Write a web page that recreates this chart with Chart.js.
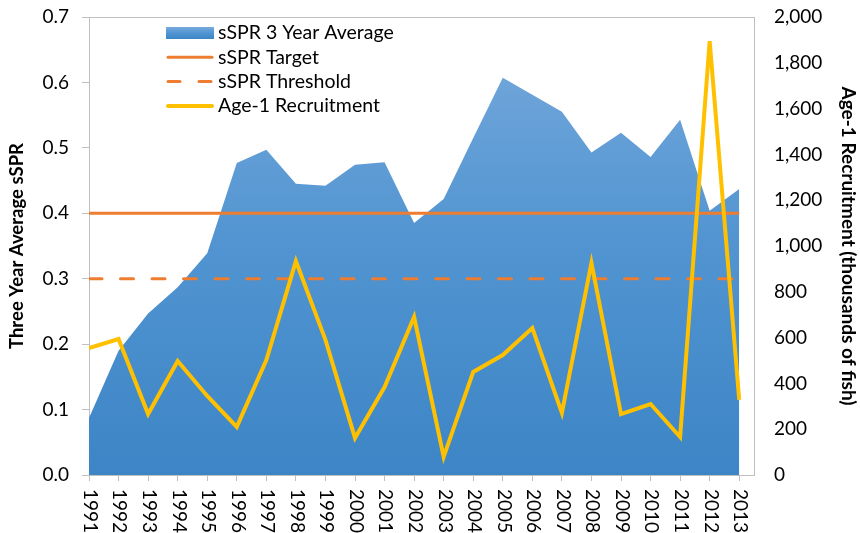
<!DOCTYPE html>
<html lang="en">
<head>
    <meta charset="UTF-8">
    <title>sSPR and Age-1 Recruitment</title>
    <script src="https://cdn.jsdelivr.net/npm/chart.js"></script>
    <style>
        body {
            margin: 0;
            padding: 0;
            background-color: #ffffff;
        }
        #wrap {
            width: 860px;
            height: 533px;
        }
    </style>
</head>
<body>
    <div id="wrap"><canvas id="myChart"></canvas></div>

    <script>
        const years = [1991, 1992, 1993, 1994, 1995, 1996, 1997, 1998, 1999, 2000, 2001, 2002,
                       2003, 2004, 2005, 2006, 2007, 2008, 2009, 2010, 2011, 2012, 2013];
        const ssprAvg = [0.087, 0.19, 0.247, 0.287, 0.339, 0.477, 0.497, 0.445, 0.442, 0.474, 0.478, 0.385,
                         0.422, 0.515, 0.607, 0.581, 0.555, 0.493, 0.523, 0.486, 0.543, 0.404, 0.437];
        const ssprTarget = years.map(() => 0.4);
        const ssprThreshold = years.map(() => 0.3);
        const recruitment = [554, 594, 266, 498, 345, 210, 502, 934, 590, 162, 384, 690,
                             79, 450, 524, 642, 271, 926, 266, 310, 166, 1895, 328];
        const leftTicks = [0, 0.1, 0.2, 0.3, 0.4, 0.5, 0.6, 0.7];
        const rightTicks = [0, 200, 400, 600, 800, 1000, 1200, 1400, 1600, 1800, 2000];

        const FONT = 'Lato, "Liberation Sans", sans-serif';
        const AXIS_GRAY = '#bfbfbf';
        const TEXT = '#000000';

        function pts(values) {
            return years.map((y, i) => ({ x: y, y: values[i] }));
        }

        function areaGradient(ctx, area) {
            const g = ctx.createLinearGradient(0, area.top, 0, area.bottom);
            g.addColorStop(0, '#78aadc');
            g.addColorStop(0.5, '#5194d1');
            g.addColorStop(1, '#3d85c6');
            return g;
        }

        // rotated year labels (top to bottom), top border and the legend inside the plot
        const extrasPlugin = {
            id: 'extras',
            afterDraw(chart) {
                const ctx = chart.ctx;
                const area = chart.chartArea;
                const xs = chart.scales.x;

                ctx.save();
                ctx.strokeStyle = AXIS_GRAY;
                ctx.lineWidth = 1;
                ctx.beginPath();
                ctx.moveTo(area.left, area.top + 0.5);
                ctx.lineTo(area.right, area.top + 0.5);
                ctx.stroke();

                ctx.fillStyle = TEXT;
                ctx.font = '19px ' + FONT;
                ctx.textAlign = 'left';
                ctx.textBaseline = 'middle';
                years.forEach(y => {
                    const px = xs.getPixelForValue(y);
                    ctx.save();
                    ctx.translate(px + 1, area.bottom + 14);
                    ctx.rotate(Math.PI / 2);
                    ctx.fillText(String(y), 0, 0);
                    ctx.restore();
                });

                // legend
                const ds = chart.data.datasets;
                const sx = area.left + 77;
                const sw = 48;
                const tx = sx + sw + 4;
                let ry = area.top + 16;
                ctx.font = '19.5px ' + FONT;
                ds.forEach((d, i) => {
                    if (i === 0) {
                        ctx.fillStyle = areaGradient(ctx, { top: ry - 6, bottom: ry + 6 });
                        ctx.fillRect(sx, ry - 6, sw, 12);
                    } else {
                        ctx.strokeStyle = d.borderColor;
                        ctx.lineWidth = d.borderWidth;
                        ctx.lineCap = 'round';
                        ctx.setLineDash(d.borderDash ? [12, 19] : []);
                        ctx.beginPath();
                        ctx.moveTo(sx + 2, ry);
                        ctx.lineTo(sx + sw - 2, ry);
                        ctx.stroke();
                        ctx.setLineDash([]);
                    }
                    ctx.fillStyle = TEXT;
                    ctx.fillText(d.label, tx, ry);
                    ry += 24.3;
                });
                ctx.restore();
            }
        };

        const ctx = document.getElementById('myChart').getContext('2d');
        new Chart(ctx, {
            type: 'line',
            data: {
                datasets: [
                    {
                        label: 'sSPR 3 Year Average',
                        data: pts(ssprAvg),
                        yAxisID: 'y',
                        borderWidth: 0,
                        borderColor: 'rgba(0,0,0,0)',
                        backgroundColor: function(context) {
                            const area = context.chart.chartArea;
                            if (!area) return '#5b9bd5';
                            return areaGradient(context.chart.ctx, area);
                        },
                        fill: 'origin',
                        pointRadius: 0,
                        tension: 0,
                        order: 4
                    },
                    {
                        label: 'sSPR Target',
                        data: pts(ssprTarget),
                        yAxisID: 'y',
                        borderColor: '#ed7d31',
                        borderWidth: 3,
                        pointRadius: 0,
                        fill: false,
                        order: 3
                    },
                    {
                        label: 'sSPR Threshold',
                        data: pts(ssprThreshold),
                        yAxisID: 'y',
                        borderColor: '#ed7d31',
                        borderWidth: 3,
                        borderDash: [13, 18.5],
                        borderCapStyle: 'round',
                        pointRadius: 0,
                        fill: false,
                        order: 2
                    },
                    {
                        label: 'Age-1 Recruitment',
                        data: pts(recruitment),
                        yAxisID: 'y1',
                        borderColor: '#ffc000',
                        borderWidth: 4,
                        pointRadius: 0,
                        tension: 0,
                        fill: false,
                        order: 1
                    }
                ]
            },
            options: {
                responsive: true,
                maintainAspectRatio: false,
                animation: false,
                layout: {
                    padding: { top: 17 }
                },
                scales: {
                    x: {
                        type: 'linear',
                        min: 1991,
                        max: 2013.5,
                        afterFit: s => { s.height = 58; },
                        afterBuildTicks: s => { s.ticks = years.map(v => ({ value: v })); },
                        ticks: {
                            stepSize: 1,
                            callback: () => '',
                            font: { family: FONT, size: 17 }
                        },
                        grid: {
                            drawOnChartArea: false,
                            color: AXIS_GRAY,
                            tickLength: 6
                        },
                        border: { color: AXIS_GRAY }
                    },
                    y: {
                        position: 'left',
                        min: 0,
                        max: 0.7,
                        afterFit: s => { s.width = 89; s.paddingTop = 0; s.paddingBottom = 0; },
                        afterBuildTicks: s => { s.ticks = leftTicks.map(v => ({ value: v })); },
                        ticks: {
                            color: TEXT,
                            padding: 13,
                            font: { family: FONT, size: 19 },
                            callback: v => v.toFixed(1)
                        },
                        grid: {
                            drawOnChartArea: false,
                            color: AXIS_GRAY,
                            tickLength: 7
                        },
                        border: { color: AXIS_GRAY },
                        title: {
                            display: true,
                            text: 'Three Year Average sSPR',
                            color: TEXT,
                            font: { family: FONT, size: 18.5, weight: 'bold' },
                            padding: { top: 6, bottom: 0 }
                        }
                    },
                    y1: {
                        position: 'right',
                        min: 0,
                        max: 2000,
                        afterFit: s => { s.width = 106; s.paddingTop = 0; s.paddingBottom = 0; },
                        afterBuildTicks: s => { s.ticks = rightTicks.map(v => ({ value: v })); },
                        ticks: {
                            color: TEXT,
                            padding: 20,
                            font: { family: FONT, size: 19 },
                            callback: v => v.toLocaleString('en-US')
                        },
                        grid: {
                            drawOnChartArea: false,
                            drawTicks: false,
                            tickLength: 0
                        },
                        border: { color: AXIS_GRAY },
                        title: {
                            display: true,
                            text: 'Age-1 Recruitment (thousands of fish)',
                            color: TEXT,
                            font: { family: FONT, size: 19, weight: 'bold' },
                            padding: 0
                        }
                    }
                },
                plugins: {
                    legend: { display: false },
                    tooltip: { enabled: false }
                }
            },
            plugins: [extrasPlugin]
        });
    </script>
</body>
</html>
